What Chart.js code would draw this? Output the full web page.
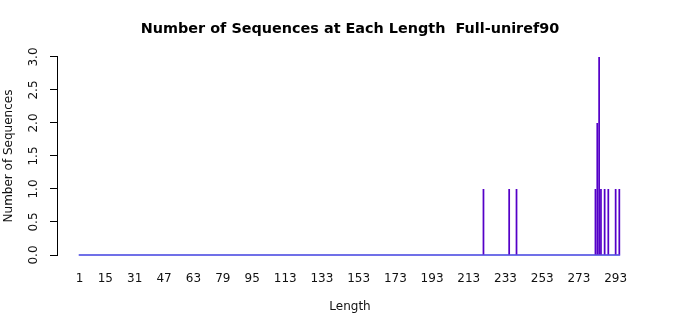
<!DOCTYPE html>
<html>
<head>
<meta charset="utf-8">
<script src="https://cdn.jsdelivr.net/npm/chart.js@4"></script>
<style>
  body { margin: 0; background: #fff; }
</style>
</head>
<body>
<canvas id="myChart" width="700" height="315"></canvas>
<script>
// Set Data
const lengths = [221, 235, 239, 282, 283, 284, 285, 287, 289, 293, 295];
const counts = [1, 1, 1, 1, 2, 3, 1, 1, 1, 1, 1];
const firstLength = 1;
const lastLength = 295;
const xTickLabels = [1, 15, 31, 47, 63, 79, 95, 113, 133, 153, 173, 193, 213, 233, 253, 273, 293];
const yTickLabels = ["0.0", "0.5", "1.0", "1.5", "2.0", "2.5", "3.0"];

const xMin = -11.3;
const xMax = 307.9;
const barPart = 0.95;

Chart.defaults.font.family = "'DejaVu Sans', sans-serif";
Chart.defaults.font.size = 12;
Chart.defaults.color = "#111";

// rotated y tick labels, like R does
const rotatedYTicks = {
  id: "rotatedYTicks",
  afterDraw(chart) {
    const scale = chart.scales.y;
    const ctx = chart.ctx;
    ctx.save();
    ctx.fillStyle = "#111";
    ctx.font = "12px 'DejaVu Sans', sans-serif";
    ctx.textAlign = "center";
    ctx.textBaseline = "middle";
    scale.ticks.forEach((t, i) => {
      const y = scale.getPixelForValue(t.value);
      ctx.save();
      ctx.translate(34, y);
      ctx.rotate(-Math.PI / 2);
      ctx.fillText(yTickLabels[i], 0, 0);
      ctx.restore();
    });
    ctx.restore();
  },
};

new Chart("myChart", {
  type: "bar",
  data: {
    datasets: [
      {
        type: "line",
        data: [
          { x: firstLength - barPart / 2, y: 0 },
          { x: lastLength + barPart / 2, y: 0 },
        ],
        borderColor: "#4040e0",
        borderWidth: 1.5,
        pointRadius: 0,
        clip: false,
        order: 2,
      },
      {
        data: lengths.map((l, i) => ({ x: l, y: counts[i] })),
        backgroundColor: "#5500c8",
        borderWidth: 0,
        categoryPercentage: 1,
        barPercentage: barPart,
        order: 1,
      },
    ],
  },
  options: {
    responsive: false,
    animation: false,
    layout: { padding: 0 },
    plugins: {
      legend: { display: false },
      tooltip: { enabled: false },
      title: {
        display: true,
        text: "Number of Sequences at Each Length  Full-uniref90",
        color: "#000",
        font: { size: 14.4, weight: "bold" },
        padding: { top: 20.4, bottom: 19.3 },
      },
    },
    scales: {
      x: {
        type: "linear",
        min: xMin,
        max: xMax,
        offset: false,
        grid: { display: false, drawTicks: false },
        border: { display: false },
        afterBuildTicks: (scale) => {
          scale.ticks = xTickLabels.map((v) => ({ value: v }));
        },
        afterFit: (scale) => {
          scale.height = 60;
        },
        ticks: {
          autoSkip: false,
          maxRotation: 0,
          padding: 17,
          callback: (v) => String(v),
        },
        title: {
          display: true,
          text: "Length",
          color: "#111",
          padding: { top: 0, bottom: 1 },
        },
      },
      y: {
        min: 0,
        max: 3,
        ticks: { stepSize: 0.5, display: false },
        grid: {
          drawOnChartArea: false,
          drawTicks: true,
          tickLength: 7,
          color: "#000",
        },
        border: { display: true, color: "#000", width: 1 },
        afterFit: (scale) => {
          scale.width = 57;
        },
        title: {
          display: true,
          text: "Number of Sequences",
          color: "#111",
          padding: { top: 2, bottom: 0 },
        },
      },
      // empty right margin, same as R's plot region
      yRight: {
        position: "right",
        display: true,
        grid: { display: false },
        border: { display: false },
        ticks: { display: false },
        afterFit: (scale) => {
          scale.width = 57;
        },
      },
    },
  },
  plugins: [rotatedYTicks],
});
</script>
</body>
</html>
